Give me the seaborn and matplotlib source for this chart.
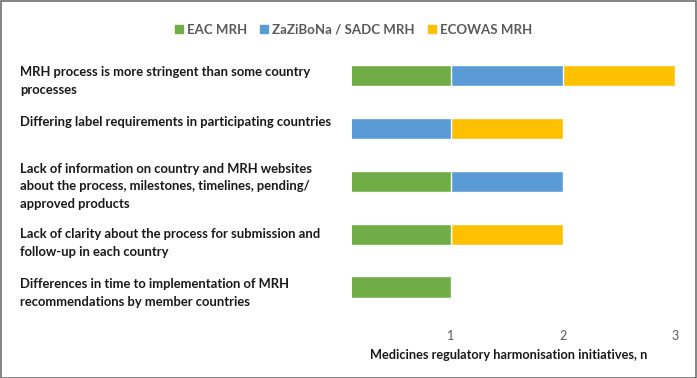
import matplotlib
matplotlib.use("Agg")
import matplotlib.pyplot as plt
from matplotlib.lines import Line2D
import pandas as pd
import seaborn as sns

# chart data
issues = [
    "MRH process is more stringent than some country\nprocesses",
    "Differing label requirements in participating countries",
    "Lack of information on country and MRH websites\nabout the process, milestones, timelines, pending/\napproved products",
    "Lack of clarity about the process for submission and\nfollow-up in each country",
    "Differences in time to implementation of MRH\nrecommendations by member countries",
]
eac = [1, 0, 1, 1, 1]
sadc = [1, 1, 1, 0, 0]
ecowas = [1, 1, 0, 1, 0]
series_names = ["EAC MRH", "ZaZiBoNa / SADC MRH", "ECOWAS MRH"]
x_ticks = [1, 2, 3]

colors = ["#70AD47", "#5B9BD5", "#FFC000"]
# label vertical position (pixels from top of figure, first line centre)
label_y_px = [73, 122.5, 170, 235, 285.5]

df = pd.DataFrame({"issue": issues, "eac": eac, "sadc": sadc, "ecowas": ecowas})
df["c1"] = df["eac"]
df["c2"] = df["eac"] + df["sadc"]
df["c3"] = df["c2"] + df["ecowas"]

sns.set_style("white")
plt.rcParams["font.family"] = ["Lato", "DejaVu Sans"]

W, H = 697, 378
fig = plt.figure(figsize=(W / 100, H / 100), dpi=100)
ax = fig.add_axes([352 / W, 1 - 313.5 / H, (690 - 352) / W, (313.5 - 49) / H])

# stacked bars: draw cumulative totals from widest to narrowest
for col, color in zip(["c3", "c2", "c1"], colors[::-1]):
    sns.barplot(data=df, y="issue", x=col, color=color, orient="h",
                width=0.4, ax=ax, saturation=1, errorbar=None)

ax.set_xlim(0.118, 3.13)
ax.set_ylim(4.5, -0.5)
ax.set_xticks(x_ticks)
ax.set_xticklabels([str(t) for t in x_ticks], fontsize=9, color="#595959")
ax.tick_params(axis="x", length=0, pad=12)
ax.set_yticks([])
ax.set_ylabel("")
ax.set_xlabel("Medicines regulatory harmonisation initiatives, n",
              fontsize=9.2, fontweight="bold", color="#1a1a1a", labelpad=6)
ax.xaxis.set_label_coords(0.464, -0.135)
for s in ax.spines.values():
    s.set_visible(False)

for text, ypx in zip(issues, label_y_px):
    fig.text(20 / W, 1 - (ypx - 7) / H, text, ha="left", va="top",
             fontsize=9.4, fontweight="bold", color="#1a1a1a", linespacing=1.55)

handles = [Line2D([], [], marker="s", linestyle="", markersize=5.5,
                  markerfacecolor=c, markeredgecolor=c) for c in colors]
fig.legend(handles, series_names, loc="center", bbox_to_anchor=(353 / W, 1 - 30 / H),
           ncol=3, frameon=False, prop={"size": 9.5, "weight": "bold"},
           labelcolor="#595959", handletextpad=0.2, columnspacing=0.9,
           handlelength=0.8)

fig.patches.append(plt.Rectangle((0.001, 0.001), 0.998, 0.997, transform=fig.transFigure,
                                 fill=False, edgecolor="#6f6f6f", linewidth=1.2))

fig.savefig("out.png", dpi=100)
